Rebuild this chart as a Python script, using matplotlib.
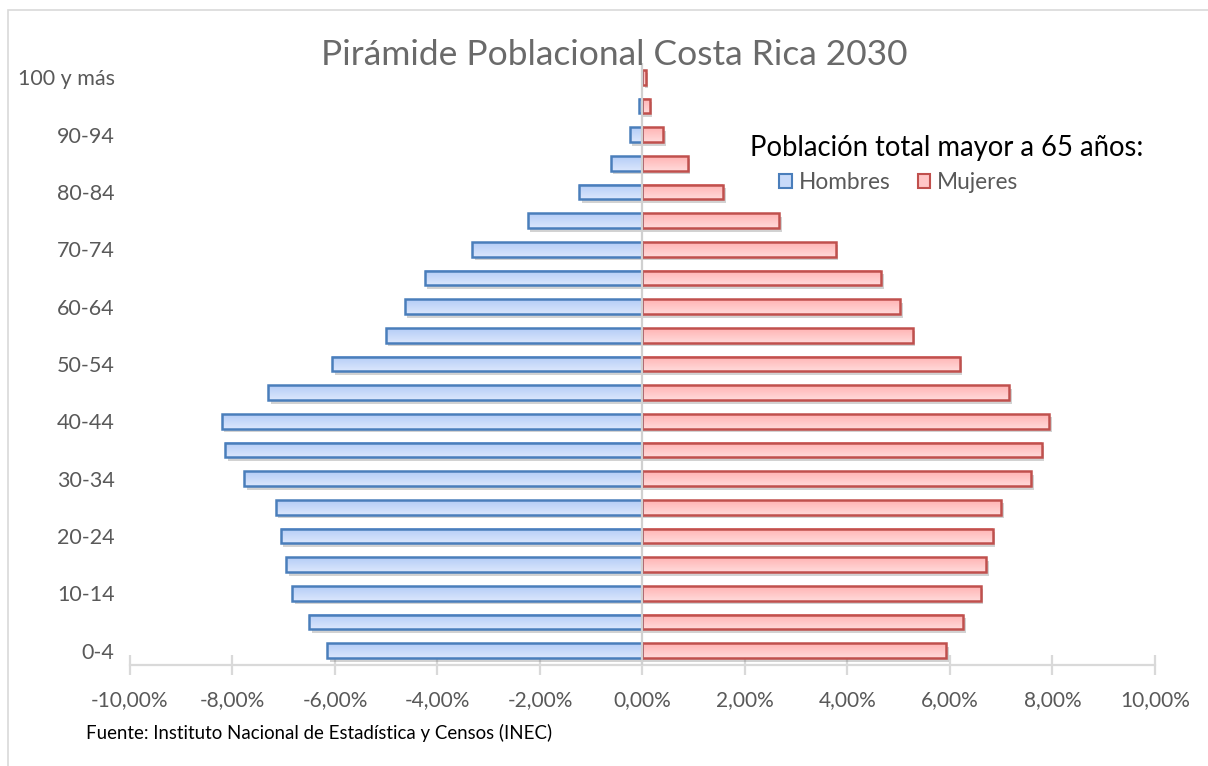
import numpy as np
import matplotlib
matplotlib.use("Agg")
import matplotlib.pyplot as plt
import matplotlib.patheffects as pe
from matplotlib.colors import LinearSegmentedColormap
from matplotlib.patches import Patch, Rectangle
from matplotlib.ticker import FuncFormatter

plt.rcParams['font.family'] = ['Lato', 'DejaVu Sans']

# grupos de edad y porcentajes (% de la población total)
grupos = ['0-4', '5-9', '10-14', '15-19', '20-24', '25-29', '30-34', '35-39',
          '40-44', '45-49', '50-54', '55-59', '60-64', '65-69', '70-74',
          '75-79', '80-84', '85-89', '90-94', '95-99', '100 y más']
hombres = [6.15, 6.50, 6.83, 6.95, 7.06, 7.16, 7.77, 8.15, 8.21, 7.30, 6.05,
           5.01, 4.64, 4.25, 3.32, 2.24, 1.23, 0.62, 0.25, 0.06, 0.01]
mujeres = [5.93, 6.26, 6.60, 6.71, 6.83, 7.00, 7.59, 7.79, 7.94, 7.16, 6.19,
           5.27, 5.03, 4.66, 3.77, 2.67, 1.58, 0.88, 0.41, 0.14, 0.06]
xticks = [-10, -8, -6, -4, -2, 0, 2, 4, 6, 8, 10]

titulo = 'Pirámide Poblacional Costa Rica 2030'
titulo_leyenda = 'Población total mayor a 65 años:'
fuente = 'Fuente: Instituto Nacional de Estadística y Censos (INEC)'

gris = '#595959'
azul_borde, rojo_borde = '#4a7ebb', '#c0504d'
cmap_azul = LinearSegmentedColormap.from_list('az', ['#dbe7fd', '#b4ccf6'])
cmap_rojo = LinearSegmentedColormap.from_list('ro', ['#ffdada', '#ffb3b3'])

fig = plt.figure(figsize=(12.08, 7.66), dpi=100)
ax = fig.add_axes([0.1076, 0.1319, 0.8485, 0.7859])

y = np.arange(len(grupos))
alto = 0.52
grad = np.linspace(0, 1, 64).reshape(-1, 1)


def dibujar(valores, signo, cmap, borde):
    sombra = [pe.SimplePatchShadow(offset=(2, -2.5), shadow_rgbFace='#7f7f7f', alpha=0.35), pe.Normal()]
    for yi, v in zip(y, valores):
        x0, x1 = 0, signo * v
        ax.barh(yi, signo * v, height=alto, color='white', zorder=2, path_effects=sombra)
        ax.imshow(grad, extent=[min(x0, x1), max(x0, x1), yi + alto / 2, yi - alto / 2],
                  cmap=cmap, aspect='auto', zorder=3, interpolation='bilinear', origin='upper')
        ax.barh(yi, signo * v, height=alto, fill=False, edgecolor=borde, lw=1.8, zorder=4)


dibujar(hombres, -1, cmap_azul, azul_borde)
dibujar(mujeres, 1, cmap_rojo, rojo_borde)

# eje vertical en cero
ax.axvline(0, color='#d0d0d0', lw=1.6, zorder=5)

ax.set_xlim(-10, 10)
ax.set_ylim(-0.5, 20.5)
ax.set_xticks(xticks)
ax.xaxis.set_major_formatter(FuncFormatter(lambda v, p: f'{v:.2f}%'.replace('.', ',')))
ax.set_yticks(y[::2])
ax.set_yticklabels(grupos[::2])

for s in ['top', 'right', 'left']:
    ax.spines[s].set_visible(False)
ax.spines['bottom'].set_color('#d9d9d9')
ax.spines['bottom'].set_linewidth(1.6)
ax.tick_params(axis='x', direction='inout', length=14, width=1.6, color='#d9d9d9',
               labelcolor=gris, labelsize=15, pad=11)
ax.tick_params(axis='y', length=0, labelcolor=gris, labelsize=15.5, pad=11)

fig.text(0.5087, 0.928, titulo, ha='center', va='center', fontsize=25.5, color='#6a6a6a')
fig.text(0.784, 0.807, titulo_leyenda, ha='center', va='center', fontsize=19.8, color='black')
fig.text(0.071, 0.043, fuente, ha='left', va='center', fontsize=13.4, color='black')

handles = [Patch(facecolor='#c8daf9', edgecolor=azul_borde, lw=1.5, label='Hombres'),
           Patch(facecolor='#ffc6c6', edgecolor=rojo_borde, lw=1.5, label='Mujeres')]
leg = ax.legend(handles=handles, ncol=2, frameon=False, loc='center',
                bbox_to_anchor=(0.744, 0.762), bbox_transform=fig.transFigure,
                fontsize=16.3, handlelength=0.55, handleheight=0.55, handletextpad=0.3,
                columnspacing=1.2)
for t in leg.get_texts():
    t.set_color(gris)

# marco del gráfico
fig.patches.append(Rectangle((8 / 1208, -0.05), 1.2, 1 - 10 / 766 + 0.05,
                             transform=fig.transFigure, fill=False,
                             edgecolor='#d9d9d9', lw=1.2))

fig.savefig('out.png', dpi=100)
